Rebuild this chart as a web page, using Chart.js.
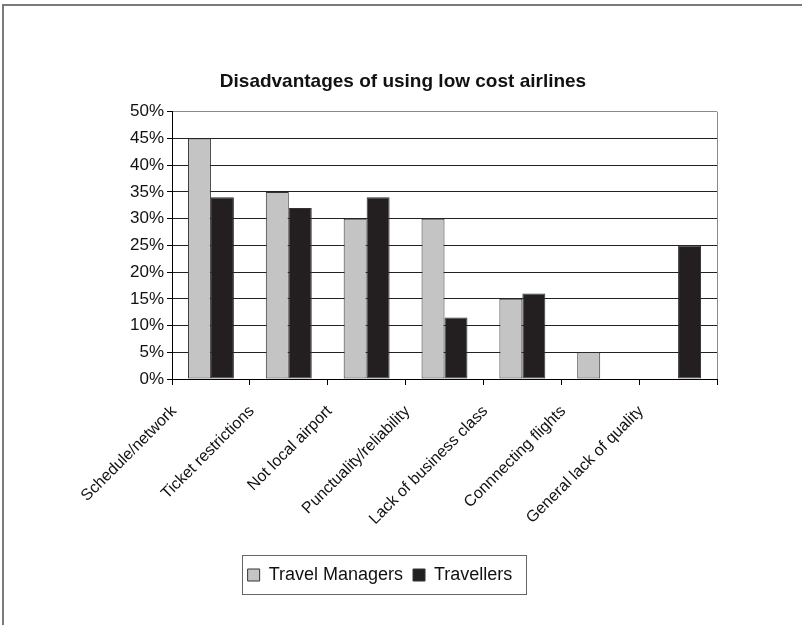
<!DOCTYPE html>
<html>
<head>
<meta charset="utf-8">
<title>Disadvantages of using low cost airlines</title>
<script src="https://cdn.jsdelivr.net/npm/chart.js@4.4.0/dist/chart.umd.min.js"></script>
<style>
    body { margin: 0; background: #fff; }
    canvas { display: block; }
</style>
</head>
<body>
<canvas id="airlineChart" width="802" height="625"></canvas>
<script>
(function () {
    'use strict';

    var categories = [
        'Schedule/network',
        'Ticket restrictions',
        'Not local airport',
        'Punctuality/reliability',
        'Lack of business class',
        'Connnecting flights',
        'General lack of quality'
    ];
    var travelManagers = [45, 35, 30, 30, 15, 5, 0];
    var travellers = [34, 32, 34, 11.5, 16, 0, 25];
    var yTicks = [0, 5, 10, 15, 20, 25, 30, 35, 40, 45, 50];

    var FONT = "'Liberation Sans', Arial, sans-serif";
    var LEGEND_SHIFT = -23;

    // white page with the grey frame on the top and left edges
    var pageFrame = {
        id: 'pageFrame',
        beforeDraw: function (chart) {
            var ctx = chart.ctx;
            ctx.save();
            ctx.fillStyle = '#fff';
            ctx.fillRect(0, 0, chart.width, chart.height);
            ctx.strokeStyle = '#7a7a7a';
            ctx.lineWidth = 2;
            ctx.beginPath();
            ctx.moveTo(3, chart.height);
            ctx.lineTo(3, 5);
            ctx.lineTo(chart.width, 5);
            ctx.stroke();
            ctx.restore();
        }
    };

    // plot border on the right side and a box round the legend
    var boxes = {
        id: 'boxes',
        afterLayout: function (chart) {
            chart.legend.left += LEGEND_SHIFT;
            chart.legend.right += LEGEND_SHIFT;
        },
        afterDraw: function (chart) {
            var ctx = chart.ctx;
            var area = chart.chartArea;
            ctx.save();
            ctx.strokeStyle = '#8a8a8a';
            ctx.lineWidth = 1;
            ctx.beginPath();
            ctx.moveTo(area.right + 0.5, area.top);
            ctx.lineTo(area.right + 0.5, area.bottom);
            ctx.stroke();

            var hits = chart.legend.legendHitBoxes;
            if (hits && hits.length) {
                var left = hits[0].left, right = 0, top = hits[0].top, bottom = 0;
                hits.forEach(function (h) {
                    left = Math.min(left, h.left);
                    right = Math.max(right, h.left + h.width);
                    top = Math.min(top, h.top);
                    bottom = Math.max(bottom, h.top + h.height);
                });
                ctx.strokeStyle = '#666';
                ctx.strokeRect(Math.round(left - 6) + 0.5, Math.round(top - 11) + 0.5,
                    Math.round(right - left + 19), Math.round(bottom - top + 21));
            }
            ctx.restore();
        }
    };

    var chart = new Chart(document.getElementById('airlineChart'), {
        type: 'bar',
        data: {
            labels: categories,
            datasets: [{
                label: 'Travel Managers',
                data: travelManagers,
                backgroundColor: '#c4c4c4',
                borderColor: '#333',
                borderWidth: 1,
                borderSkipped: false
            }, {
                label: 'Travellers',
                data: travellers,
                backgroundColor: '#231f20',
                borderColor: '#333',
                borderWidth: 1,
                borderSkipped: false
            }]
        },
        plugins: [pageFrame, boxes],
        options: {
            responsive: false,
            animation: false,
            devicePixelRatio: 1,
            layout: {
                padding: { top: 0, left: 89, right: 85, bottom: 31 }
            },
            datasets: {
                bar: { categoryPercentage: 0.59, barPercentage: 1 }
            },
            plugins: {
                title: {
                    display: true,
                    text: 'Disadvantages of using low cost airlines',
                    color: '#111',
                    font: { family: FONT, size: 19, weight: 'bold' },
                    padding: { top: 70, bottom: 19 }
                },
                legend: {
                    position: 'bottom',
                    labels: {
                        color: '#111',
                        font: { family: FONT, size: 18 },
                        boxWidth: 12,
                        boxHeight: 12,
                        padding: 10
                    }
                },
                tooltip: { enabled: false }
            },
            scales: {
                x: {
                    offset: true,
                    grid: {
                        offset: true,
                        drawOnChartArea: false,
                        tickLength: 6,
                        color: '#000'
                    },
                    border: { color: '#000' },
                    ticks: {
                        autoSkip: false,
                        minRotation: 45,
                        maxRotation: 45,
                        labelOffset: -37,
                        padding: 17,
                        color: '#111',
                        font: { family: FONT, size: 16 }
                    },
                    afterFit: function (scale) { scale.height = 177; }
                },
                y: {
                    min: 0,
                    max: 50,
                    afterBuildTicks: function (scale) {
                        scale.ticks = yTicks.map(function (v) { return { value: v }; });
                    },
                    grid: {
                        color: function (c) { return c.tick && c.tick.value === 50 ? '#8a8a8a' : '#222'; },
                        tickColor: '#000',
                        tickLength: 5
                    },
                    border: { color: '#000' },
                    ticks: {
                        padding: 3,
                        color: '#111',
                        font: { family: FONT, size: 17 },
                        callback: function (v) { return v + '%'; }
                    },
                    afterFit: function (scale) { scale.width = 83; }
                }
            }
        }
    });
})();
</script>
</body>
</html>
